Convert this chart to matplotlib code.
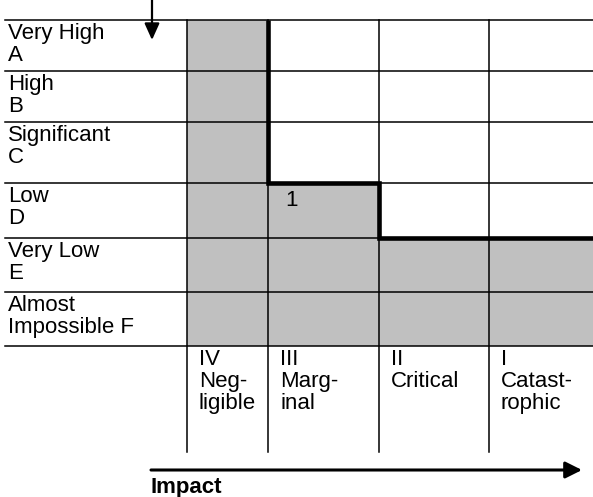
import matplotlib.pyplot as plt
from matplotlib.patches import Rectangle

plt.rcParams['font.family'] = ['Liberation Sans', 'DejaVu Sans']

# Likelihood rows (top to bottom) and impact columns (left to right)
likelihood = ['Very High\nA', 'High\nB', 'Significant\nC', 'Low\nD',
              'Very Low\nE', 'Almost\nImpossible F']
impact = ['IV\nNeg-\nligible', 'III\nMarg-\ninal', 'II\nCritical',
          'I\nCatast-\nrophic']

# 1 = acceptable (shaded) cell
acceptable = [[1, 0, 0, 0],
              [1, 0, 0, 0],
              [1, 0, 0, 0],
              [1, 1, 0, 0],
              [1, 1, 1, 1],
              [1, 1, 1, 1]]

# numbered risks placed in the matrix: (row, col, label)
risks = [(3, 1, '1')]

# layout in pixels
W, H = 593, 497
left = 5
row_edges = [20, 71, 122, 183, 238, 292, 346]
col_edges = [187, 268, 379, 489, 593]
bottom = 452
fs = 16
thin = 1.1
gray = '#c0c0c0'

fig = plt.figure(figsize=(W / 100, H / 100), dpi=100)
ax = fig.add_axes([0, 0, 1, 1])
ax.set_xlim(0, W)
ax.set_ylim(H, 0)
ax.set_axis_off()

# shaded cells
for i, row in enumerate(acceptable):
    for j, val in enumerate(row):
        if val:
            ax.add_patch(Rectangle((col_edges[j], row_edges[i]),
                                   col_edges[j + 1] - col_edges[j],
                                   row_edges[i + 1] - row_edges[i],
                                   facecolor=gray, edgecolor='none', zorder=1))

# grid lines
for y in row_edges:
    ax.plot([left, W], [y, y], color='black', lw=thin, zorder=2)
for x in col_edges[:-1]:
    ax.plot([x, x], [row_edges[0], bottom], color='black', lw=thin, zorder=2)

# thick acceptability boundary
first = [next(i for i, row in enumerate(acceptable) if row[j])
         for j in range(len(impact))]
xs, ys = [], []
for j in range(1, len(impact)):
    xs += [col_edges[j], col_edges[j], col_edges[j + 1]]
    ys += [row_edges[first[j - 1]], row_edges[first[j]], row_edges[first[j]]]
ax.plot(xs, ys, color='black', lw=3.3, solid_joinstyle='miter',
        solid_capstyle='butt', zorder=3)

# row labels
for i, lab in enumerate(likelihood):
    ax.text(left + 3, row_edges[i] + 3, lab, fontsize=fs, va='top',
            ha='left', linespacing=1.07, zorder=4)

# column labels
for j, lab in enumerate(impact):
    ax.text(col_edges[j] + 12, row_edges[-1] + 3, lab, fontsize=fs,
            va='top', ha='left', linespacing=1.07, zorder=4)

# risk numbers
for i, j, lab in risks:
    ax.text(col_edges[j] + 17, row_edges[i] + 7, lab, fontsize=fs,
            va='top', ha='left', zorder=4)

# likelihood arrow (pointing down)
ax.annotate('', xy=(152, 40), xytext=(152, 0),
            arrowprops=dict(arrowstyle='-|>,head_length=1.0,head_width=0.45',
                            color='black', lw=1.6, shrinkA=0, shrinkB=0))

# impact arrow
ax.annotate('', xy=(582, 470), xytext=(151, 470),
            arrowprops=dict(arrowstyle='-|>,head_length=1.0,head_width=0.5',
                            color='black', lw=2.2, shrinkA=0, shrinkB=0))
ax.text(151, 487, 'Impact', fontsize=fs, fontweight='bold', va='center',
        ha='left')

fig.savefig('out.png', dpi=100)
